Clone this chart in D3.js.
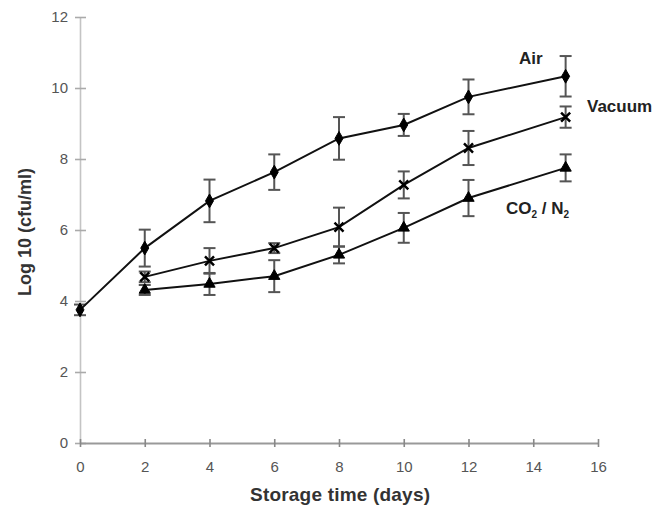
<!DOCTYPE html>
<html>
<head>
<meta charset="utf-8">
<script src="https://cdn.jsdelivr.net/npm/d3@7.9.0/dist/d3.min.js"></script>
<style>
  body { margin: 0; background: #fff; }
  svg { font-family: "Liberation Sans", Arial, sans-serif; }
</style>
</head>
<body>
<svg id="chart" width="661" height="507"></svg>
<script>
// storage days
const days = [0, 2, 4, 6, 8, 10, 12, 15];
const xTicks = [0, 2, 4, 6, 8, 10, 12, 14, 16];
const yTicks = [0, 2, 4, 6, 8, 10, 12];

// mean log10 counts and error (+/-) for each atmosphere (null = not measured)
const airMean = [3.75, 5.49, 6.82, 7.63, 8.58, 8.96, 9.75, 10.33];
const airErr = [0.15, 0.52, 0.6, 0.5, 0.6, 0.31, 0.49, 0.57];
const vacuumMean = [null, 4.68, 5.13, 5.49, 6.08, 7.27, 8.31, 9.18];
const vacuumErr = [null, 0.15, 0.36, 0.14, 0.55, 0.38, 0.48, 0.3];
const co2Mean = [null, 4.31, 4.48, 4.7, 5.3, 6.06, 6.9, 7.75];
const co2Err = [null, 0.14, 0.31, 0.45, 0.24, 0.42, 0.51, 0.38];

const series = [
  { name: 'Air', mean: airMean, err: airErr, symbol: 'diamond' },
  { name: 'Vacuum', mean: vacuumMean, err: vacuumErr, symbol: 'times' },
  { name: 'CO2', mean: co2Mean, err: co2Err, symbol: 'triangle' }
];

const svg = d3.select('#chart');

const x = d3.scaleLinear().domain([0, 16]).range([80, 598]);
const y = d3.scaleLinear().domain([0, 12]).range([443, 17]);

// y axis
const yAxis = svg.append('g')
  .attr('transform', `translate(${x(0)},0)`)
  .call(d3.axisLeft(y).tickValues(yTicks).tickSize(0).tickPadding(12));
yAxis.select('.domain').attr('stroke', '#c4c4c4').attr('stroke-width', 1.6);
yAxis.selectAll('.tick text')
  .attr('font-size', 15).attr('fill', '#555');
yAxis.selectAll('.tick').append('line')
  .attr('x1', -5).attr('x2', 6)
  .attr('stroke', '#aaa').attr('stroke-width', 1.6);

// x axis
const xAxis = svg.append('g')
  .attr('transform', `translate(0,${y(0)})`)
  .call(d3.axisBottom(x).tickValues(xTicks).tickSize(0).tickPadding(18));
xAxis.select('.domain').attr('stroke', '#999').attr('stroke-width', 2);
xAxis.selectAll('.tick text')
  .attr('font-size', 15).attr('fill', '#555');
xAxis.selectAll('.tick').append('line')
  .attr('y1', -4).attr('y2', 4)
  .attr('stroke', '#888').attr('stroke-width', 1.6);

// axis titles
svg.append('text')
  .attr('x', 340).attr('y', 501)
  .attr('text-anchor', 'middle')
  .attr('font-size', 19).attr('font-weight', 'bold').attr('fill', '#333')
  .attr('textLength', 180)
  .text('Storage time (days)');

svg.append('text')
  .attr('transform', 'translate(31,232) rotate(-90)')
  .attr('text-anchor', 'middle')
  .attr('font-size', 18).attr('font-weight', 'bold').attr('fill', '#333')
  .text('Log 10 (cfu/ml)');

const line = d3.line()
  .defined((d) => d.mean != null)
  .x((d) => x(d.day))
  .y((d) => y(d.mean));

series.forEach((s) => {
  const pts = days
    .map((d, i) => ({ day: d, mean: s.mean[i], err: s.err[i] }))
    .filter((d) => d.mean != null);
  const g = svg.append('g');

  // error bars
  const bars = g.selectAll('.err').data(pts).join('g');
  bars.append('line')
    .attr('x1', (d) => x(d.day)).attr('x2', (d) => x(d.day))
    .attr('y1', (d) => y(d.mean - d.err)).attr('y2', (d) => y(d.mean + d.err))
    .attr('stroke', '#555').attr('stroke-width', 2);
  [-1, 1].forEach((sign) => {
    bars.append('line')
      .attr('x1', (d) => x(d.day) - 6).attr('x2', (d) => x(d.day) + 6)
      .attr('y1', (d) => y(d.mean + sign * d.err))
      .attr('y2', (d) => y(d.mean + sign * d.err))
      .attr('stroke', '#555').attr('stroke-width', 2);
  });

  g.append('path')
    .datum(pts)
    .attr('d', line)
    .attr('fill', 'none').attr('stroke', '#111').attr('stroke-width', 2);

  let sym;
  if (s.symbol === 'diamond') {
    sym = d3.symbol().type(d3.symbolDiamond).size(55);
  } else if (s.symbol === 'triangle') {
    sym = d3.symbol().type(d3.symbolTriangle).size(55);
  } else {
    sym = d3.symbol().type(d3.symbolTimes).size(55);
  }
  g.selectAll('.pt').data(pts).join('path')
    .attr('transform', (d) => `translate(${x(d.day)},${y(d.mean)})`)
    .attr('d', sym)
    .attr('fill', s.symbol === 'times' ? 'none' : '#000')
    .attr('stroke', '#000')
    .attr('stroke-width', s.symbol === 'times' ? 2.5 : 1);
});

// series labels
const labels = svg.append('g')
  .attr('font-size', 17).attr('font-weight', 'bold').attr('fill', '#222');
labels.append('text').attr('x', 519).attr('y', 64).text('Air');
labels.append('text').attr('x', 587).attr('y', 112).text('Vacuum');
const co2 = labels.append('text').attr('x', 506).attr('y', 214);
co2.append('tspan').text('CO');
co2.append('tspan').attr('font-size', 10).attr('dy', 4).text('2');
co2.append('tspan').attr('dy', -4).text(' / N');
co2.append('tspan').attr('font-size', 10).attr('dy', 4).text('2');
</script>
</body>
</html>
